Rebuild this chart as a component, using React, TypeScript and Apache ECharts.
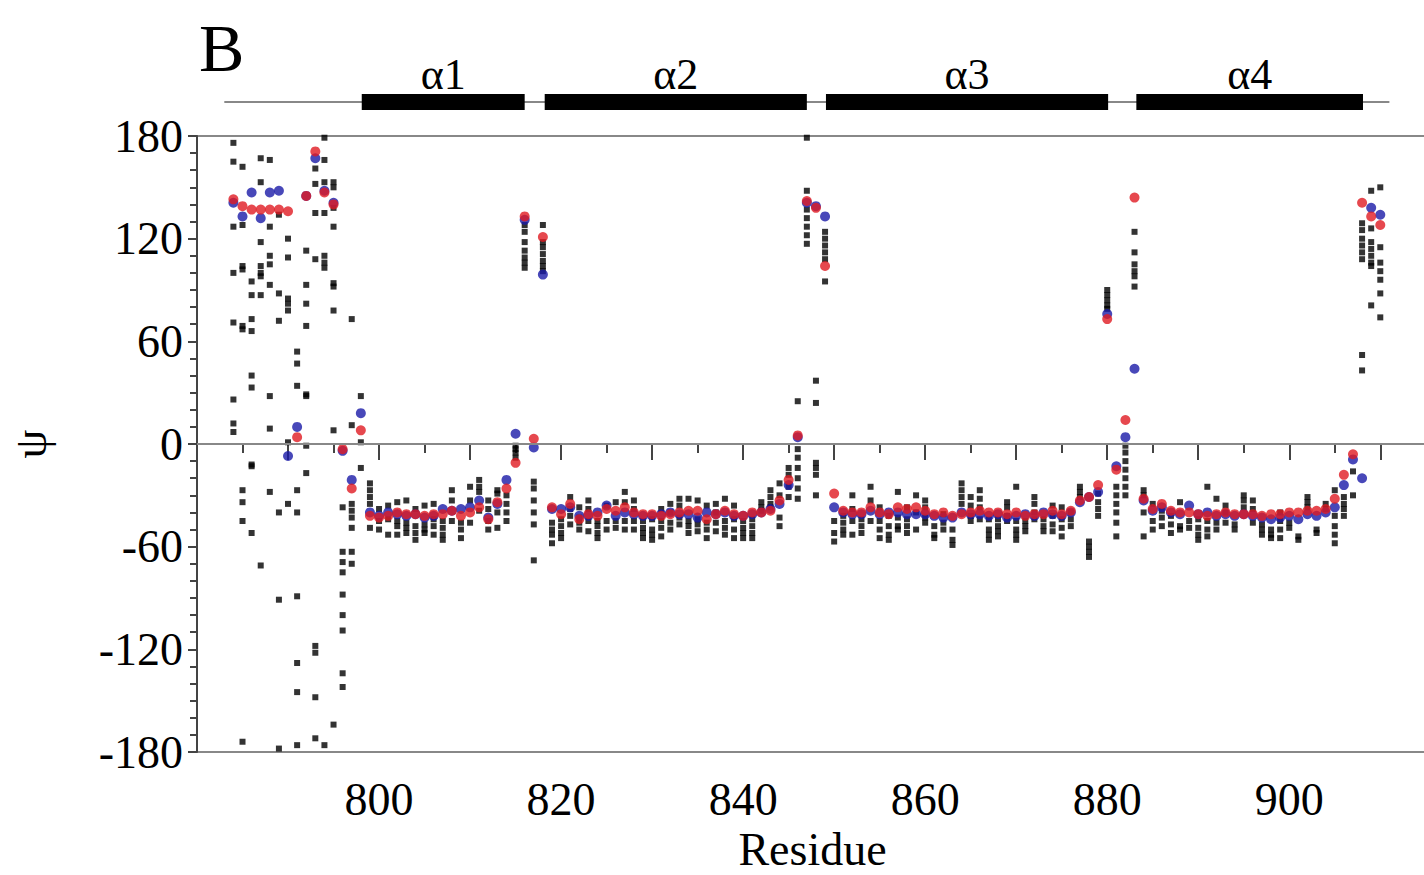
import React, { useEffect, useRef } from "react";
import * as echarts from "echarts";

// ---- data ----
const firstResidue = 784;

// Red points (psi per residue, 784..910)
const redPsi = [
  143, 139, 137, 137, 137, 137, 136, 4, 145, 171, // 784-793
  147, 140, -3, -26, 8, -42, -43, -42, -40, -41, // 794-803
  -41, -42, -41, -41, -39, -42, -40, -37, -44, -34, // 804-813
  -26, -11, 133, 3, 121, -37, -41, -35, -44, -41, // 814-823
  -42, -38, -39, -37, -40, -41, -41, -42, -41, -40, // 824-833
  -39, -39, -44, -41, -39, -41, -42, -40, -40, -39, // 834-843
  -33, -21, 5, 142, 138, 104, -29, -39, -40, -40, // 844-853
  -37, -40, -41, -37, -38, -37, -39, -41, -40, -42, // 854-863
  -41, -40, -39, -40, -40, -41, -40, -42, -41, -41, // 864-873
  -39, -41, -39, -33, -31, -24, 73, -15, 14, 144, // 874-883
  -32, -38, -35, -39, -40, -40, -41, -42, -41, -40, // 884-893
  -41, -41, -41, -42, -41, -41, -40, -40, -39, -39, // 894-903
  -38, -32, -18, -6, 141, 133, 128, // 904-910
];

// Blue points (psi per residue, 784..910)
const bluePsi = [
  141, 133, 147, 132, 147, 148, -7, 10, 145, 167, // 784-793
  148, 141, -4, -21, 18, -40, -42, -40, -41, -42, // 794-803
  -41, -43, -42, -38, -39, -38, -37, -33, -43, -35, // 804-813
  -21, 6, 131, -2, 99, -38, -38, -37, -42, -42, // 814-823
  -40, -36, -42, -40, -41, -42, -42, -41, -40, -41, // 824-833
  -41, -43, -40, -41, -40, -42, -42, -41, -40, -38, // 834-843
  -35, -24, 4, 141, 139, 133, -37, -40, -41, -41, // 844-853
  -39, -41, -40, -40, -41, -41, -41, -42, -43, -43, // 854-863
  -40, -41, -41, -42, -41, -43, -42, -41, -42, -40, // 864-873
  -41, -42, -40, -34, -31, -28, 76, -13, 4, 44, // 874-883
  -33, -39, -37, -40, -41, -36, -41, -40, -42, -41, // 884-893
  -42, -41, -42, -43, -44, -43, -42, -44, -41, -42, // 894-903
  -40, -37, -24, -9, -20, 138, 134, // 904-910
];

// Black points: ensemble psi values per residue (784..910)
const blackPsi: number[][] = [
  [176, 165, 127, 100, 71, 26, 12, 7], // 784
  [162, 128, 104, 102, 69, 67, -27, -34, -45, -174], // 785
  [95, 87, 73, 66, 40, 33, -12, -13, -52], // 786
  [167, 153, 118, 104, 100, 98, 87, -71], // 787
  [166, 127, 110, 105, 93, 28, 9, -28], // 788
  [134, 88, 72, -40, -91, -178], // 789
  [120, 109, 85, 82, 78, 1, -35], // 790
  [54, 47, 34, -27, -40, -89, -128, -145, -176], // 791
  [113, 93, 82, 69, 29, 28, -1, -17], // 792
  [161, 152, 135, 108, -118, -122, -148, -172], // 793
  [179, 166, 153, 135, 110, 106, 103, -176], // 794
  [153, 150, 138, 127, 94, 92, 78, 8, -164], // 795
  [-37, -63, -69, -75, -88, -100, -109, -134, -142], // 796
  [73, 11, -35, -39, -43, -49, -63, -70], // 797
  [28, 1, -14], // 798
  [-23, -27, -31, -35, -49], // 799
  [-38, -45, -50], // 800
  [-36, -44, -53], // 801
  [-34, -45, -48, -53], // 802
  [-33, -46, -49, -52], // 803
  [-38, -48, -52, -56], // 804
  [-36, -47, -50, -52], // 805
  [-35, -44, -48, -53], // 806
  [-45, -49, -53, -56], // 807
  [-27, -33, -45], // 808
  [-46, -50, -55], // 809
  [-25, -33, -46], // 810
  [-21, -25, -28, -39], // 811
  [-33, -38, -45, -50], // 812
  [-27, -29, -40, -49], // 813
  [-30, -35, -40, -45], // 814
  [-1, -3, -5, -8], // 815
  [128, 124, 118, 113, 109, 106, 103], // 816
  [-22, -26, -33, -40, -47, -68], // 817
  [128, 118, 115, 111, 107, 104, 101], // 818
  [-46, -50, -53, -58], // 819
  [-44, -48, -52, -55], // 820
  [-31, -38, -42, -47], // 821
  [-37, -43, -46, -50], // 822
  [-33, -38, -45, -51], // 823
  [-45, -48, -52, -55], // 824
  [-36, -45, -50], // 825
  [-34, -45, -49], // 826
  [-28, -34, -45, -50], // 827
  [-33, -38, -45, -50], // 828
  [-45, -49, -52, -55], // 829
  [-44, -50, -53, -56], // 830
  [-38, -45, -49, -54], // 831
  [-35, -40, -46, -50], // 832
  [-32, -36, -43, -47], // 833
  [-32, -45, -48, -52], // 834
  [-33, -44, -47, -51], // 835
  [-36, -46, -50, -55], // 836
  [-35, -40, -46, -51], // 837
  [-32, -45, -49, -53], // 838
  [-36, -44, -50, -55], // 839
  [-45, -49, -52, -55], // 840
  [-44, -48, -52, -55], // 841
  [-34, -37, -39], // 842
  [-27, -31, -35, -37], // 843
  [-23, -30, -43, -48], // 844
  [-14, -18, -25, -31], // 845
  [25, -3, -8, -14, -20, -26, -32], // 846
  [179, 148, 137, 132, 127, 122, 117], // 847
  [37, 24, -11, -14, -18, -30], // 848
  [124, 120, 116, 112, 108, 95], // 849
  [-45, -52, -57], // 850
  [-42, -46, -50, -53], // 851
  [-30, -38, -45, -53], // 852
  [-44, -48, -52], // 853
  [-25, -33, -45], // 854
  [-37, -45, -50, -55], // 855
  [-42, -48, -53, -56], // 856
  [-28, -43, -48, -50], // 857
  [-37, -44, -48, -52], // 858
  [-30, -40, -50], // 859
  [-33, -37, -43, -46], // 860
  [-48, -53, -55], // 861
  [-41, -46, -50], // 862
  [-50, -56, -59], // 863
  [-23, -27, -31, -35], // 864
  [-31, -36, -42, -45], // 865
  [-27, -32, -37, -44], // 866
  [-44, -50, -53, -56], // 867
  [-44, -48, -51, -54], // 868
  [-34, -37, -42, -45], // 869
  [-25, -45, -50, -53, -56], // 870
  [-45, -48, -51], // 871
  [-31, -35, -40, -44], // 872
  [-44, -48, -51], // 873
  [-36, -42, -47, -51], // 874
  [-37, -44, -49, -54], // 875
  [-40, -44, -48], // 876
  [-25, -28, -31], // 877
  [-57, -60, -63, -66], // 878
  [-29, -34, -38, -42], // 879
  [90, 87, 84, 81, 79], // 880
  [-25, -30, -35, -40, -46, -54], // 881
  [-1, -5, -10, -15, -20, -25, -30], // 882
  [124, 112, 105, 101, 98, 92], // 883
  [-27, -30, -40, -54], // 884
  [-35, -45, -50], // 885
  [-39, -43, -48], // 886
  [-42, -47, -52], // 887
  [-34, -48, -50], // 888
  [-45, -49], // 889
  [-44, -49, -53, -56], // 890
  [-25, -45, -50, -54], // 891
  [-32, -46, -50], // 892
  [-36, -40, -46], // 893
  [-47, -50], // 894
  [-30, -33, -37], // 895
  [-33, -38, -46], // 896
  [-47, -50, -53], // 897
  [-50, -53, -55], // 898
  [-40, -45, -50, -55], // 899
  [-46, -49], // 900
  [-54, -56], // 901
  [-31, -34, -37], // 902
  [-50, -52], // 903
  [-35, -38], // 904
  [-27, -42, -48, -53, -58], // 905
  [-31, -35, -38, -42], // 906
  [-16, -30], // 907
  [129, 125, 120, 116, 112, 108, 52, 43], // 908
  [148, 126, 118, 114, 110, 106, 104, 81], // 909
  [150, 115, 106, 101, 96, 88, 74], // 910
];

// Secondary structure
const helixNames = ["α1", "α2", "α3", "α4"];
const helixStart = [798.1, 818.2, 849.1, 883.2];
const helixEnd = [816.0, 847.0, 880.1, 908.1];
const chainRange = [783, 911];

const yTicks = [-180, -120, -60, 0, 60, 120, 180];
const xLabelValues = [800, 820, 840, 860, 880, 900];

const FONT = "'Liberation Serif', 'Times New Roman', serif";

export default function App() {
  const ref = useRef<HTMLDivElement>(null);

  useEffect(() => {
    if (!ref.current) return;
    const chart = echarts.init(ref.current, undefined, { renderer: "svg" });

    const blackData: number[][] = [];
    blackPsi.forEach((vals, i) => {
      vals.forEach((v) => blackData.push([firstResidue + i, v]));
    });
    const redData = redPsi.map((v, i) => [firstResidue + i, v]);
    const blueData = bluePsi.map((v, i) => [firstResidue + i, v]);

    const helixData = helixNames.map((n, i) => ({
      name: n,
      value: [helixStart[i], helixEnd[i]],
    }));

    const xMin = 780;
    const xMax = 917;
    const gridLeft = 197;
    const gridWidth = 1247;

    chart.setOption({
      animation: false,
      backgroundColor: "#ffffff",
      graphic: [
        {
          type: "text",
          left: 199,
          top: 14,
          style: { text: "B", font: `68px ${FONT}`, fill: "#000" },
        },
      ],
      grid: [
        {
          left: gridLeft,
          top: 136,
          width: gridWidth,
          height: 616,
          outerBoundsMode: "none",
          show: true,
          borderColor: "#888",
          borderWidth: 2,
          backgroundColor: "transparent",
        },
        { left: gridLeft, top: 60, width: gridWidth, height: 84, outerBoundsMode: "none" },
      ],
      xAxis: [
        {
          type: "value",
          gridIndex: 0,
          min: xMin,
          max: xMax,
          interval: 10,
          name: "Residue",
          nameLocation: "middle",
          nameGap: 74,
          nameTextStyle: {
            fontFamily: FONT,
            fontSize: 46,
            color: "#000",
            padding: [0, 16, 0, 0],
          },
          axisLine: { show: true, lineStyle: { color: "#444", width: 2 } },
          axisTick: { show: true, length: 16, lineStyle: { color: "#444", width: 2 } },
          minorTick: { show: true, splitNumber: 2, length: 9, lineStyle: { color: "#444", width: 2 } },
          splitLine: { show: false },
          axisLabel: {
            margin: 24,
            fontFamily: FONT,
            fontSize: 46,
            color: "#000",
            formatter: (v: number) => (xLabelValues.includes(v) ? String(v) : ""),
          },
        },
        {
          type: "value",
          gridIndex: 1,
          min: xMin,
          max: xMax,
          show: false,
        },
      ],
      yAxis: [
        {
          type: "value",
          gridIndex: 0,
          min: -180,
          max: 180,
          interval: 60,
          name: "ψ",
          nameLocation: "middle",
          nameGap: 144,
          nameRotate: 90,
          nameTextStyle: { fontFamily: FONT, fontSize: 46, color: "#000" },
          axisLine: { show: true, lineStyle: { color: "#444", width: 2 } },
          axisTick: { show: true, length: 9, lineStyle: { color: "#444", width: 2 } },
          minorTick: { show: true, splitNumber: 6, length: 7, lineStyle: { color: "#444", width: 2 } },
          splitLine: { show: false },
          axisLabel: {
            margin: 14,
            fontFamily: FONT,
            fontSize: 46,
            color: "#000",
            formatter: (v: number) => (yTicks.includes(v) ? String(v) : ""),
          },
        },
        { type: "value", gridIndex: 1, min: 0, max: 1, show: false },
      ],
      series: [
        {
          name: "ensemble",
          type: "scatter",
          xAxisIndex: 0,
          yAxisIndex: 0,
          symbol: "rect",
          symbolSize: 6,
          itemStyle: { color: "#000" },
          data: blackData,
          silent: true,
          markLine: {
            silent: true,
            symbol: "none",
            label: { show: false },
            lineStyle: { color: "#888", width: 2, type: "solid" },
            data: [{ yAxis: 0 }],
          },
        },
        {
          name: "blue",
          type: "scatter",
          xAxisIndex: 0,
          yAxisIndex: 0,
          symbol: "circle",
          symbolSize: 10,
          itemStyle: { color: "#1a1aa8" },
          data: blueData,
          silent: true,
        },
        {
          name: "red",
          type: "scatter",
          xAxisIndex: 0,
          yAxisIndex: 0,
          symbol: "circle",
          symbolSize: 10,
          itemStyle: { color: "#e01a22" },
          data: redData,
          silent: true,
        },
        {
          name: "chain",
          type: "line",
          xAxisIndex: 1,
          yAxisIndex: 1,
          symbol: "none",
          z: 1,
          lineStyle: { color: "#888", width: 2 },
          data: [
            [chainRange[0], 0.5],
            [chainRange[1], 0.5],
          ],
          silent: true,
        },
        {
          name: "helices",
          type: "custom",
          xAxisIndex: 1,
          yAxisIndex: 1,
          z: 5,
          silent: true,
          data: helixData,
          renderItem: (params: any, api: any) => {
            const s = api.coord([api.value(0), 0.5]);
            const e = api.coord([api.value(1), 0.5]);
            return {
              type: "group",
              children: [
                {
                  type: "rect",
                  shape: { x: s[0], y: s[1] - 8, width: e[0] - s[0], height: 16 },
                  style: { fill: "#000" },
                },
                {
                  type: "text",
                  style: {
                    text: helixNames[params.dataIndex],
                    x: (s[0] + e[0]) / 2,
                    y: s[1] - 28,
                    align: "center",
                    verticalAlign: "middle",
                    font: `44px ${FONT}`,
                    fill: "#000",
                  },
                },
              ],
            };
          },
        },
      ],
    });

    return () => chart.dispose();
  }, []);

  return (
    <div
      ref={ref}
      style={{ position: "fixed", left: 0, top: 0, width: 1424, height: 875, background: "#fff" }}
    />
  );
}
